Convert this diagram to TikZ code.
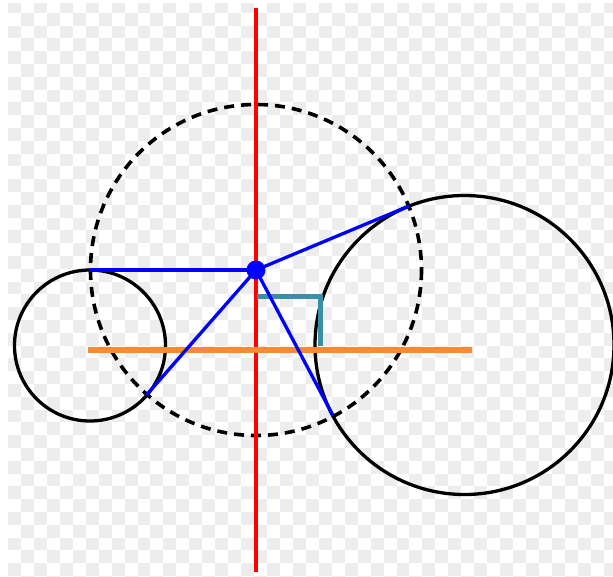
\documentclass[tikz,border=0pt]{standalone}
\definecolor{chk}{HTML}{EDEDED}
\definecolor{tanorange}{HTML}{F78A33}
\definecolor{rteal}{HTML}{3A8FA6}
\tikzset{
  circ/.style={draw=black, line width=3.3pt},
  radical/.style={draw=black, line width=3.6pt, dash pattern=on 10pt off 7pt},
  tangent/.style={draw=blue, line width=3.3pt},
  axis/.style={draw=red, line width=3.2pt},
  centerline/.style={draw=tanorange, line width=5.3pt},
  rightangle/.style={draw=rteal, line width=5.3pt},
}
\begin{document}
\begin{tikzpicture}[x=1pt,y=-1pt]
\useasboundingbox (0,0) rectangle (613,576);
\fill[white] (0,0) rectangle (613,576);
% transparency checkerboard
\begin{scope}
\clip (8,3) rectangle (613,576);
\foreach \r in {0,...,45}{
  \foreach \c in {0,...,46}{
    \pgfmathparse{int(mod(\r+\c,2))}
    \ifnum\pgfmathresult=0
      \fill[chk] ({8+12.95*\c},{12.8*\r}) rectangle ({8+12.95*(\c+1)},{12.8*(\r+1)});
    \fi
  }
}
\end{scope}
% key points
\coordinate (P) at (256,270);
\coordinate (C1) at (90,345.5);
\coordinate (C2) at (464.5,345);
\coordinate (T1) at (89,270);
\coordinate (T2) at (146.5,395);
\coordinate (T3) at (409,206);
\coordinate (T4) at (333,415.5);
\coordinate (Rtop) at (256,8);
\coordinate (Rbot) at (256,572);
\coordinate (Oleft) at (88,350);
\coordinate (Oright) at (472,350);
\coordinate (A1) at (257,296.5);
\coordinate (A2) at (320.5,296.5);
\coordinate (A3) at (320.5,346);
% circles
\draw[circ] (C1) circle (75.5);
\draw[circ] (C2) circle (149.5);
\draw[radical] (P) circle (165.5);
% axis lines
\draw[axis] (Rtop) -- (Rbot);
\draw[centerline] (Oleft) -- (Oright);
\draw[rightangle] (A1) -- (A2) -- (A3);
% tangents
\draw[tangent] (P) -- (T1);
\draw[tangent] (P) -- (T2);
\draw[tangent] (P) -- (T3);
\draw[tangent] (P) -- (T4);
\node[circle, fill=blue, minimum size=19pt, inner sep=0pt] (dot) at (P) {};
\end{tikzpicture}
\end{document}
